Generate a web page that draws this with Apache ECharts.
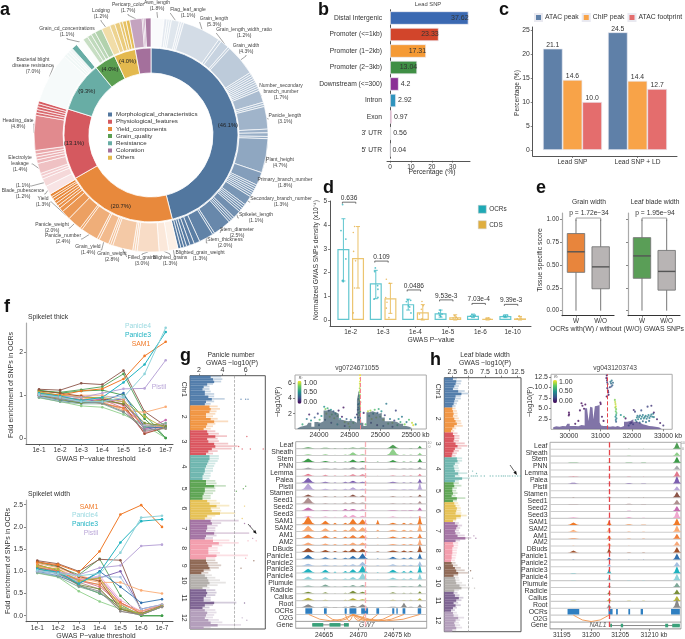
<!DOCTYPE html>
<html><head><meta charset="utf-8">
<style>html,body{margin:0;padding:0;background:#fff}#c{width:685px;height:639px}</style>
<script src="https://cdn.jsdelivr.net/npm/echarts@6/dist/echarts.min.js"></script>
</head><body><div id="c"></div>
<script>
// ---------- panel a ----------
const groupNames=['Morphological_characteristics','Yield_components','Physiological_features','Resistance','Grain_quality','Others','Coloration'];
const legendOrder=['Morphological_characteristics','Physiological_features','Yield_components','Grain_quality','Resistance','Coloration','Others'];
const groupShares=[46.1,20.7,13.1,9.3,4.0,4.0,2.9];
const morphVals=[1.8,.4,.3,.3,1.1,.3,.3,5.3,.4,1.2,.3,4.3,.3,.3,.3,.3,.3,.3,.3,.3,.3,1.7,.3,.3,3.1,.5,.5,.3,4.7,1.8,.3,.3,.3,.3,.3,.3,1.3,.3,.3,.3,.3,1.1,.3,.3,.3,2.5,.3,2.0,.8,.6,.5,.4,.4,.4];
const morphNames={0:'Awn_length',4:'Flag_leaf_angle',7:'Grain_length',9:'Grain_length_width_ratio',11:'Grain_width',21:'Number_secondary\nbranch_number',24:'Panicle_length',28:'Plant_height',29:'Primary_branch_number',36:'Secondary_branch_number',41:'Spikelet_length',45:'Stem_diameter',47:'Stem_thickness'};
const yieldVals=[1.3,1.3,3.0,.3,.3,2.8,.3,.3,1.4,.3,2.4,.3,2.0,1.3,.6,.4,.4,.4,.4,.3,.4];
const yieldNames={0:'Blighted_grain_weight',1:'Blighted_grains',2:'Filled_grains',5:'Grain_weight',8:'Grain_yield',10:'Panicle_number',12:'Panicle_weight',13:'Yield'};
const physioVals=[1.2,1.1,.4,.4,1.4,.5,.4,.4,.5,4.8,.4,.4,.4,.4,.4];
const physioNames={0:'Blade_pubescence',1:' ',4:'Electrolyte\nleakage',9:'Heading_date'};
const resistVals=[7.0,.4,.4,.3,.4,.8];
const resistNames={0:'Bacterial blight\ndisease resistance'};
const qualityVals=[1.1,.7,.6,.6,1.0];
const qualityNames={0:'Grain_cd_concentrations'};
const othersVals=[1.2,.7,.7,.4,.5,.5];
const othersNames={0:'Lodging'};
const colorVals=[1.7,.2,.2,.8];
const colorNames={0:'Pericarp_color'};
// ---------- panel b ----------
const bCats=['Distal Intergenic','Promoter (<=1kb)','Promoter (1~2kb)','Promoter (2~3kb)','Downstream (<=300)','Intron','Exon',"3' UTR","5' UTR"];
const bVals=[37.62,23.33,17.31,13.04,4.2,2.92,0.97,0.56,0.04];
// ---------- panel c ----------
const cCats=['Lead SNP','Lead SNP + LD'];
const cAtac=[21.1,24.5], cChip=[14.6,14.4], cFoot=[10.0,12.7];
// ---------- panel d ----------
const dCats=['1e-2','1e-3','1e-4','1e-5','1e-6','1e-10'];
const dOcr=[3.0,1.55,0.67,0.28,0.18,0.17], dCds=[2.62,0.92,0.33,0.12,0.05,0.07];
const dOcrLo=[1.65,0.9,0.42,0.12,0.1,0.1], dOcrHi=[4.28,2.1,0.88,0.42,0.25,0.22];
const dCdsLo=[1.35,0.28,0.0,0.0,0.0,0.0], dCdsHi=[3.95,1.55,0.65,0.22,0.09,0.15];
const dPvals=['0.636','0.109','0.0486','9.53e-3','7.03e-4','9.39e-3'];
const dBracketY=[4.98,2.49,1.27,0.85,0.70,0.66];
const dOcrPts=[[.75,4.88],[.70,3.78],[.85,3.42],[.85,2.58],[.75,1.67],[.77,1.62],[1.76,2.2],[1.74,2.05],[1.83,1.45],[1.84,1.3],[1.84,.95],[1.72,.88],[2.76,.85],[2.85,.83],[2.72,.78],[2.78,.6],[2.82,.55],[2.86,.3],[3.76,.42],[3.72,.3],[3.82,.25],[3.78,.15],[3.74,.2],[4.74,.22],[4.8,.18],[4.7,.16],[4.84,.2],[5.72,.18],[5.78,.16],[5.84,.2],[5.75,.14]];
const dCdsPts=[[1.08,3.7],[1.12,3.95],[1.09,2.9],[1.15,2.5],[1.12,1.35],[1.08,.3],[2.1,1.72],[2.2,1.55],[2.12,.75],[2.08,.95],[2.1,.5],[2.18,.1],[3.2,.78],[3.24,.6],[3.18,.45],[3.12,.25],[3.2,.05],[4.2,.18],[4.26,.12],[4.16,.08],[4.3,.05],[5.18,.06],[5.26,.08],[5.3,.04],[6.2,.18],[6.14,.05],[6.26,.08]];
// ---------- panel e : [low, q1, median, q3, high] ----------
const eGrainW=[0,.42,.645,.845,1.0], eGrainWO=[0,.24,.48,.70,1.0];
const eLeafW=[0,.355,.60,.80,1.0], eLeafWO=[0,.225,.43,.66,1.0];
// ---------- panel f ----------
const tissues=['Leaf','Sheath','Stem','PNN','Lemma','Palea','Pistil','Stamen','Seed1','Seed2','Seed3','SAM1','SAM2','AM1','AM2','DBuds','Panicle1','Panicle2','Panicle3','Panicle4','Plumule','Radicle','Callus','Root'];
const thresholds=['1e-1','1e-2','1e-3','1e-4','1e-5','1e-6','1e-7'];
const fThick=[[1.10,1.07,1.13,1.20,1.50,.55,0],[.94,.85,.75,.72,.55,.30,0],[1.12,1.05,1.10,1.12,1.0,.45,0],[1.0,.95,.90,.85,.80,.30,.30],[1.05,1.0,.95,.9,.7,.12,.25],[1.0,.92,.85,.9,.9,.2,.28],[1.0,.98,.95,1.05,1.15,1.16,1.82],[1.14,1.12,1.28,1.25,1.58,.62,.28],[1.02,.95,.88,.82,.7,.15,.25],[1.0,.95,.9,.9,.85,.2,.42],[.98,.92,.85,.95,.75,.1,.3],[1.05,1.0,1.1,1.15,1.38,1.92,2.25],[1.08,1.0,.95,.85,.65,.6,.73],[1.02,.95,.9,.8,.7,.3,.3],[1.05,.98,1.0,1.0,.9,.25,.28],[1.1,1.05,.98,.92,.78,.1,.25],[.98,.88,.82,.85,1.05,.25,.25],[.96,.9,.86,.95,.98,.3,.3],[1.05,.98,.88,.95,1.3,1.72,2.48],[1.02,.95,.85,.85,.95,1.5,2.58],[.95,.85,.8,.8,.6,.25,.35],[1.0,.9,.82,.88,.8,.35,.28],[1.08,1.0,.95,.95,.85,.5,.22],[1.03,.92,.85,.82,.62,.18,.22]];
const fWidth=[[1.2,1.1,.92,1.28,.45,0,0],[.96,.87,.55,.32,.15,0,0],[1.15,1.02,.68,.5,.25,0,0],[1.05,.95,.78,.7,.2,.05,.2],[1.1,1.0,.8,.65,.28,.1,.22],[1.02,.95,.8,.85,1.0,.15,.25],[1.0,.98,.92,1.08,1.13,1.57,1.6],[1.24,1.17,1.0,1.27,1.25,.1,.22],[1.05,.95,.75,.6,.1,.02,.2],[1.08,1.0,.82,.85,.3,.05,.25],[1.02,.98,.8,.9,.35,.1,.2],[1.2,1.15,.98,1.45,2.28,2.49,2.0],[1.1,1.05,.85,.75,.75,.57,.5],[1.15,1.0,.8,.7,.3,.05,.2],[1.18,1.08,.9,.8,.25,.1,.25],[1.22,1.12,.88,.78,.15,.02,.22],[1.0,.9,.72,1.0,.65,.29,.37],[.98,.92,.78,.88,.87,.15,.25],[1.05,.98,.72,.98,1.65,2.13,2.17],[1.02,.95,.9,.95,1.42,2.21,2.25],[.97,.88,.65,.52,.18,.02,.2],[1.08,.98,.7,.6,.15,.05,.22],[1.12,1.05,.78,.85,.2,.03,.22],[1.06,.95,.68,.55,.1,.02,.2]];
// ---------- panels g / h : Manhattan profiles per chromosome (dense part and sparse reach) ----------
const gDense=[[3.0,3.2,3.3,2.7,2.4,2.3,2.5,2.5,2.8,3.1,2.6,2.5],[2.9,3.0,2.9,2.6,2.6,3.0,3.3,2.7,2.6,2.4],[2.7,2.8,3.4,2.7,2.8,3.3,3.4,3.1,2.8,2.6],[2.9,2.9,2.8,2.7,2.6,2.5,2.5,2.4,2.3,2.3],[2.6,2.6,3.3,2.5,2.5,2.4,2.3,2.3],[2.7,2.9,3.5,3.0,3.1,3.8,2.7,2.5],[3.0,3.1,2.7,2.7,2.6,3.3,2.6,2.5],[3.2,3.7,3.1,2.8,2.8,2.8,3.5,2.6],[2.6,2.7,2.8,2.9,2.4,2.2],[2.5,2.7,2.8,2.9,2.7,2.3],[2.6,2.7,2.6,2.4,2.4,3.3,2.5,2.3],[2.5,2.7,2.6,2.5,2.8,3.0,3.6,2.4]];
const gReach=[[3.9,4.0,3.9,3.2,2.9,2.9,3.0,3.3,3.3,4.2,3.3,3.0],[3.6,3.8,3.5,3.4,3.2,3.6,4.5,3.4,3.2,3.0],[3.4,3.7,4.4,3.6,3.7,4.5,5.3,4.8,3.6,3.2],[3.7,3.7,3.6,3.4,3.3,3.2,3.2,3.0,3.0,2.9],[3.4,3.5,4.3,3.4,3.4,3.2,3.0,3.0],[3.5,3.8,4.6,3.8,3.9,5.1,3.4,3.1],[5.4,3.9,3.6,3.4,3.4,6.3,3.5,3.2],[4.6,5.4,4.0,3.6,3.6,3.8,6.2,3.4],[3.4,3.6,3.9,3.7,3.0,2.8],[3.1,3.4,3.8,4.3,3.6,2.9],[3.4,3.5,3.4,3.0,3.0,5.2,3.2,2.9],[3.4,3.5,3.3,3.2,3.7,4.0,5.6,3.0]];
const gOutliers=[[6.0,9],[6.2,9],[5.6,9],[6.1,24],[5.7,29],[5.4,28],[7.5,29],[6.4,29],[6.0,44],[5.8,45],[5.2,46],[5.9,52],[5.7,57],[6.4,60],[5.9,59],[6.6,65],[6.9,66],[6.2,66],[6.7,74],[6.0,73],[5.6,77],[5.7,97],[6.1,98],[5.9,91]];
const hDense=[[2.6,3.1,3.0,2.8,2.6,3.4,3.9,3.0,2.9,2.8,2.7,2.5],[2.5,2.6,2.7,2.6,2.8,3.0,3.2,2.8,2.5,2.3],[2.6,2.8,2.8,2.7,3.0,3.3,2.9,2.7,2.5,2.4],[3.2,3.3,2.9,2.7,2.8,2.9,3.4,2.9,4.0,2.9],[2.7,2.8,2.5,2.5,2.6,2.4,3.2,2.6],[2.8,3.0,3.2,3.1,3.0,3.8,3.1,2.6],[2.9,3.3,3.1,2.9,3.0,3.3,4.5,3.0],[2.6,2.7,2.5,2.5,2.5,2.4,2.4,2.3],[2.4,2.6,2.9,3.1,3.4,2.7],[2.9,3.0,3.1,3.6,3.9,2.8],[2.7,2.9,3.5,3.1,2.7,3.0,2.6,2.3],[2.6,2.7,3.4,3.0,2.8,2.9,3.1,2.5]];
const hReach=[[3.2,3.9,3.8,3.5,3.4,4.4,5.0,3.8,3.8,3.4,3.2,3.0],[3.0,3.2,3.3,3.3,3.5,3.8,3.9,4.1,3.1,2.8],[3.3,3.6,3.6,3.5,4.4,4.8,3.9,3.5,3.2,3.0],[4.0,4.0,3.6,3.4,3.5,3.6,4.8,3.6,5.2,3.5],[3.5,3.9,3.2,3.1,3.3,3.0,4.5,3.2],[3.4,3.6,3.8,3.8,3.9,4.7,3.8,3.1],[3.5,4.0,3.7,3.5,3.7,4.4,5.4,3.7],[3.4,3.4,3.3,3.2,3.2,3.1,3.0,2.9],[3.0,3.3,3.8,4.4,4.9,3.4],[3.5,3.6,4.0,4.6,5.2,3.5],[3.3,3.6,4.2,3.9,3.4,3.8,3.2,2.9],[3.2,3.4,4.3,3.7,3.5,3.7,4.0,3.1]];
const hOutliers=[[5.4,39],[5.7,39],[6.0,39],[6.3,39],[6.9,39],[7.4,39],[8.3,39],[8.7,39],[9.2,39],[9.6,39],[10.0,39],[10.3,39],[10.6,39],[11.0,39],[11.3,39],[11.7,39],[12.1,39],[12.5,39],[12.9,39],[5.6,37],[6.2,38],[5.8,63],[6.1,64],[5.6,80],[5.9,84],[5.3,77]];
// ---------- LD scatter panels : [kb, -log10P, r2] ----------
const gDensity=[[23650,.1],[23700,.3],[23750,.4],[23800,.5],[23850,.8],[23900,.3],[23950,.9],[24000,.8],[24050,1.0],[24100,2.4],[24150,2.5],[24200,2.3],[24250,2.2],[24300,2.0],[24350,1.2],[24400,1.1],[24450,1.0],[24500,1.1],[24550,1.0],[24600,.8],[24640,3.8],[24660,5.0],[24680,3.6],[24700,.8],[24750,.4],[24800,2.2],[24850,2.3],[24900,2.2],[24950,2.0],[25000,2.1],[25050,1.5],[25100,1.0],[25150,1.0],[25200,1.0],[25250,.9],[25300,.7],[25350,.7],[25400,.4],[25450,.3],[25500,.1],[25550,0]];
const gPoints=[[24671,7,1],[24671,6.6,1],[24670,6.2,.95],[24668,5.9,.9],[24672,5.6,.95],[24666,5.3,.85],[24670,5,.9],[24662,4.8,.8],[24668,4.5,.85],[24655,4.3,.6],[24665,4.1,.8],[24648,3.9,.55],[24660,3.7,.9],[24675,3.5,.7],[24652,3.3,.5],[24640,3.2,.4],[24668,3.0,.95],[24645,2.8,.3],[24658,2.6,.7],[24635,2.5,.2],[24672,2.3,.8],[24650,2.1,.6],[24664,1.8,.9],[24655,1.2,.4],[24640,1.5,.1],[23730,.6,.6],[23800,1.3,.4],[23840,1.9,.1],[23870,1.1,.5],[23930,1.5,.3],[23980,2.0,.2],[24010,1.2,.7],[24040,1.7,.5],[24085,2.9,.5],[24105,2.6,.8],[24120,2.0,.9],[24140,2.7,.6],[24160,2.4,.2],[24175,1.6,.9],[24195,2.5,.5],[24210,1.9,.8],[24235,2.3,.3],[24250,1.4,.9],[24270,2.0,.6],[24300,1.7,.8],[24320,2.4,.1],[24345,1.3,.5],[24375,1.6,.1],[24400,2.8,.05],[24420,.9,.9],[24450,1.3,.3],[24480,.7,.95],[24520,1.2,.6],[24560,.8,.8],[24590,1.5,.3],[24620,1.9,.15],[24730,2.1,.1],[24760,.6,.7],[24800,2.3,.9],[24820,1.7,.6],[24840,2.4,.85],[24860,1.3,.95],[24885,2.0,.5],[24910,2.5,.7],[24935,1.5,.9],[24955,2.1,.3],[24975,2.6,.6],[25000,1.6,.8],[25020,2.3,.5],[25050,1.2,.95],[25075,1.8,.2],[25100,3.3,.4],[25130,.7,.8],[25160,1.3,.4],[25200,.8,.9],[25230,1.1,.2],[25255,2.4,.2],[25280,.5,.7],[25300,1.3,.5],[25330,.9,.6],[25355,1.6,.4],[25400,.6,.8],[25430,.9,.4],[25470,1.2,.7],[25520,.8,.9],[25540,.5,.95],[25580,.6,.5],[24000,.5,.3],[24100,1.2,.2],[24200,.8,.1],[24300,.6,.5],[24420,.4,.05],[24500,.3,.9],[24850,.8,.1],[24950,.5,.05],[25050,.4,.2],[25200,.3,.1]];
const hDensity=[[29500,.5],[29600,.7],[29700,.6],[29800,.8],[29900,.7],[30000,1.3],[30050,.8],[30150,.8],[30250,.7],[30350,1.0],[30450,.9],[30550,5.0],[30600,5.3],[30650,2.0],[30700,5.4],[30750,5.2],[30800,2.4],[30850,5.5],[30900,5.6],[30950,5.8],[31000,1.6],[31050,.9],[31100,.8],[31150,.8],[31250,.6],[31350,.7],[31450,.6],[31500,.8],[31600,.5],[31700,.8],[31800,1.8],[31900,2.0],[32000,2.4],[32100,1.8],[32200,1.6],[32300,1.2],[32400,1.0],[32500,.8],[32600,.7],[32700,.6],[32800,.5],[32900,.2],[33000,0]];
const hPoints=[[31203,12.8,.02],[31190,12.2,.05],[31210,11.7,.1],[31215,11.2,.15],[31230,10.8,.2],[31320,11.3,.4],[31340,10.9,.35],[31360,11.6,.4],[31380,10.5,.3],[31400,11.1,.35],[31350,10.2,.3],[31300,10.0,.15],[31220,9.8,.1],[31240,9.2,.05],[31250,8.8,.05],[31260,8.2,.05],[31200,7.8,.02],[31460,7.0,.8],[31470,6.5,.9],[31480,6.0,.9],[31490,5.5,.95],[31475,5.2,.85],[31500,4.8,.8],[31490,4.3,.75],[31510,3.9,.7],[31500,3.4,.55],[31480,3.0,.5],[31510,2.6,.45],[31490,2.2,.4],[31500,1.8,.3],[30000,4.0,.03],[30005,3.6,.03],[29995,3.3,.03],[30400,6.2,.02],[30350,4.5,.05],[30430,5.6,.03],[30480,4.9,.03],[30520,5.9,.02],[30300,2.0,.03],[30200,1.3,.05],[31000,6.4,.03],[31010,6.0,.02],[31050,3.0,.05],[31100,2.0,.03],[32120,2.2,.45],[32160,2.8,.45],[32180,3.2,.4],[32200,2.4,.45],[32230,2.9,.42],[32260,3.3,.4],[32290,2.5,.42],[32320,3.0,.45],[32350,3.4,.4],[32380,2.6,.45],[32410,2.9,.42],[32440,3.2,.45],[32470,2.5,.42],[32500,3.0,.4],[32530,3.4,.45],[32560,2.7,.42],[32590,3.1,.4],[32620,3.5,.42],[32650,3.0,.45],[32680,3.7,.4],[32700,2.9,.42],[32150,1.8,.35],[32250,1.6,.4],[32350,1.9,.35],[32450,1.7,.38],[32550,2.0,.35],[32060,4.6,.12],[32100,4.2,.2],[32300,4.5,.25],[32500,5.4,.2],[32620,5.6,.15],[32700,4.0,.1],[32800,2.4,.1],[32900,1.5,.08],[33000,.9,.15],[31800,2.6,.05],[31900,.9,.4],[31950,1.4,.3],[31990,1.6,.15],[32040,1.2,.3],[31650,3.4,.5],[31750,3.0,.6]];
// ---------- tracks : peak positions (kb) and signal per tissue at each position ----------
const gPeakPos=[24662.7,24665.2,24666.6,24668.1,24669.2,24670.6,24672.8,24675,24676.6,24677.6,24678.9];
const gPeakHalf=[1.0,.8,.4,.5,.8,.8,.3,.9,.5,.5,.4];
const gSignal=[[.2,.1,.05,.05,.15,.1,0,.7,0,.05,.5],[.2,.2,.05,.1,.6,.2,0,1.3,.1,.1,.5],[.7,.2,.1,.1,.5,.2,.1,.4,.1,.1,.7],[.3,.1,.1,.1,.4,.3,0,.1,.1,.1,.4],[.4,.2,.1,.1,.3,.3,.05,.1,.1,.1,.4],[1.0,.2,.1,.2,.4,.2,0,.2,.1,.1,.8],[1.3,.2,.1,.2,.5,.2,0,.1,.1,.1,1.5],[.4,.1,.1,.1,.4,.2,0,.1,.05,.1,.4],[1.2,.1,.05,.2,.3,.2,0,.1,.05,.1,.5],[.6,.1,.05,.3,.3,.2,0,.1,.05,.1,.6],[.3,.2,.1,.5,.5,.3,0,.2,.05,.1,.3],[1.6,.7,.3,.3,1.1,1.0,.9,.3,.3,.2,1.7],[1.1,.6,.3,.3,.9,.8,.3,.3,.3,.2,1.6],[.7,.5,.2,.3,.6,.6,.1,.3,.2,.2,.9],[.5,.3,.2,.2,.5,.5,.05,.2,.2,.2,1.3],[.8,.4,.2,.3,.7,.6,.1,.3,.3,.2,1.4],[.8,.3,.2,.2,.6,1.1,.1,.4,.2,.3,1.1],[.4,.2,.1,.2,.3,.8,.1,.3,.2,.2,.9],[.8,.6,.2,.3,.7,1.4,.1,.6,.3,.4,1.6],[.6,.5,.1,.2,.5,1.3,.1,.4,.2,.3,1.2],[.2,.4,.05,.1,.3,.3,0,.1,.1,.1,.5],[.3,.2,.05,.1,.5,.3,0,.2,.1,.1,.4],[.5,.1,0,.1,.4,.2,0,.1,.05,.1,.4],[.6,.1,.05,.1,.3,.6,0,.1,.9,.1,.6]];
const gOcrBlocks=[[24662.3,24663.3],[24665,24665.4],[24668,24668.3],[24668.7,24669.7],[24670.4,24671.4],[24672.6,24673],[24674.9,24675.2],[24675.5,24675.7],[24676.4,24676.8],[24678.6,24679.1]];
const gLoopAnchor=24669.2;
const gLoopTargets=[24662.8,24665.2,24668.1,24670.9,24672.8,24675,24676.6,24678.9];
const gGeneSpan=[24663.3,24668.6];
const gExons=[[24663.3,24664.9],[24665.8,24667.4],[24667.9,24668.6]];
const hPeakPos=[31197,31203.1,31206.5,31209,31214.7];
const hPeakHalf=[1.0,.45,.7,.5,.7];
const hSignal=[[.02,.02,.05,.05,1.3],[.02,.02,.05,.02,.7],[.05,.02,.05,.02,1.2],[.02,.02,.02,.02,.8],[.1,.05,.05,.02,1.1],[.15,.05,.1,.05,1.5],[.02,.05,.02,.02,.8],[.02,.1,.02,.02,1.1],[.02,.02,.1,.02,.9],[.02,.02,.05,.02,1.0],[.15,.1,.2,.05,1.5],[.5,1.0,.1,.05,1.3],[.4,.9,.1,.05,1.3],[.1,.7,.05,.05,1.0],[.05,.6,.05,.03,.9],[.4,.9,.05,.05,1.1],[.02,.4,.02,.02,1.2],[.02,.5,.02,.02,.9],[.05,.9,.03,.03,1.4],[.03,.7,.03,.03,1.3],[.02,.4,.02,.02,.9],[.02,.4,.02,.02,.9],[.02,.4,.02,.02,1.0],[.02,.8,.02,.02,1.8]];
const hOcrBlocks=[[31196,31198],[31203,31203.7],[31204.3,31204.6],[31206.4,31206.7],[31208.5,31208.9],[31213.7,31215.2]];
const hLoopAnchor=31203.1;
const hLoopTargets=[31197];
const hGeneSpan=[31203.3,31215.2];
const hExons=[[31203.3,31203.6],[31205.1,31205.5],[31212.7,31213.2],[31213.9,31215.2]];

// ---------- styling ----------
const FF='"Liberation Sans",Arial,sans-serif';
const groupColors=['#52779f','#e8893c','#d5595f','#68ada5','#5a9e50','#e3b94e','#a4709c'];
const bColors=['#3b69b2','#d2452b','#f59a35','#3f8f45','#8a3095','#2f93bd','#d64f8d','#8fc45a','#f2c9c9'];
const tissueColors=['#4f9e55','#8fcf8a','#3c9a48','#a9a9ad','#e2788c','#7d5fb0','#b9a5d8','#8c5548','#b0908f','#c76bb0','#f0a8d0','#f07a28','#fbab74','#f0803c','#f8a878','#a0522d','#2f6fae','#a5bfe0','#1fb3c0','#8fd3da','#7fa898','#7a8f3a','#b8b43a','#8a8a8a'];
const chrColors=['#4c78a8','#f0913c','#d9505a','#69b3ac','#58a14e','#e5bf4f','#a06fa0','#f29aaa','#8c6450','#b0aca8','#7a5f8f','#b09ab8'];
const viridis=['#440154','#3b528b','#21918c','#5ec962','#fde725'];
// where the ring's labels sit on the page (centre of each label)
const ringLabelAt={'Awn_length':[157,6],'Pericarp_color':[128,8],'Flag_leaf_angle':[188,13],'Lodging':[101,14],'Grain_length':[214,22],'Grain_cd_concentrations':[67,32],'Grain_length_width_ratio':[244,33],'Grain_width':[246,49],'Bacterial blight\ndisease resistance':[33,66],'Number_secondary\nbranch_number':[281,92],'Panicle_length':[285,119],'Heading_date':[18,124],'Plant_height':[280,163],'Electrolyte\nleakage':[20,164],'Primary_branch_number':[285,183],' ':[23,186],'Blade_pubescence':[23,194],'Secondary_branch_number':[281,202],'Yield':[43,202],'Spikelet_length':[256,218],'Panicle_weight':[52,228],'Stem_diameter':[237,233],'Panicle_number':[63,239],'Stem_thickness':[225,243],'Grain_yield':[88,250],'Blighted_grain_weight':[200,256],'Grain_weight':[112,257],'Filled_grains':[142,261],'Blighted_grains':[170,261]};

const grid=[],xAxis=[],yAxis=[],series=[],graphic=[],legend=[],visualMap=[];
function T(text,x,y,o={}){graphic.push({type:'text',x,y,rotation:o.rot||0,silent:true,z:50,style:{text,font:`${o.italic?'italic ':''}${o.weight||'normal'} ${o.size||7}px ${FF}`,fill:o.color||'#333',align:o.align||'center',verticalAlign:'middle'}});}
function mix(c,t){const n=parseInt(c.slice(1),16),r=n>>16,g=(n>>8)&255,b=n&255,f=v=>Math.round(255+(v-255)*t);return `rgb(${f(r)},${f(g)},${f(b)})`;}
function addGrid(l,t,r,b,o={}){grid.push(Object.assign({left:l,top:t,width:r-l,height:b-t,containLabel:false},o));return grid.length-1;}
const lineCol='#555';
function valAxis(g,min,max,ticks,fmt,o={}){
  const a=Object.assign({type:'value',gridIndex:g,min,max,splitLine:{show:false},
   axisLine:{show:o.line!==false,onZero:false,lineStyle:{color:o.lineColor||lineCol,width:o.lineWidth||1}},
   axisTick:{show:true,customValues:ticks,length:2,lineStyle:{color:lineCol,width:.7}},
   axisLabel:{show:o.label!==false,customValues:ticks,formatter:fmt,fontSize:o.size||7,color:'#333',margin:o.margin||3,fontFamily:FF,hideOverlap:false}},o.extra||{});
  return a;
}
function dashLine(x,color,w){return {silent:true,symbol:'none',animation:false,label:{show:false},lineStyle:{type:'dashed',color,width:w||1},data:[{xAxis:x}]};}

// ---------- a ----------
function ringData(vals,names,ci,lo,hi,first){let cum=0;const tot=vals.reduce((a,b)=>a+b,0);return vals.map((v,i)=>{
  let t=lo+(hi-lo)*((cum+v/2)/tot);cum+=v;
  if(i===0&&first!==undefined)t=first;
  const nm=names[i];
  return {name:nm||('s'+ci+'_'+i),value:v,itemStyle:{color:mix(groupColors[ci],t)},label:{show:!!nm},labelLine:{show:!!nm}};
});}
const outer=[].concat(ringData(morphVals,morphNames,0,.12,1.0,.03),ringData(yieldVals,yieldNames,1,.1,1.05),ringData(physioVals,physioNames,2,.12,1.0),ringData(resistVals,resistNames,3,.02,.12),ringData(qualityVals,qualityNames,4,.25,.5,.02),ringData(othersVals,othersNames,5,.4,1.0),ringData(colorVals,colorNames,6,.5,1.0));
outer[outer.length-colorVals.length-othersVals.length-qualityVals.length-1].itemStyle.color=groupColors[3];
series.push({type:'pie',radius:[88,117],center:[151,135],startAngle:90,silent:true,avoidLabelOverlap:false,data:outer,itemStyle:{borderColor:'#fff',borderWidth:.7},
  label:{position:'outside',fontSize:5,color:'#444',lineHeight:6,fontFamily:FF,align:'center',formatter:p=>p.name===' '?`(${p.value.toFixed(1)}%)`:`${p.name}\n(${p.value.toFixed(1)}%)`},
  labelLine:{length:2,length2:1,lineStyle:{color:'#444',width:.5}},
  labelLayout:p=>{const a=ringLabelAt[outer[p.dataIndex].name];return a?{x:a[0],y:a[1],align:'center',verticalAlign:'middle'}:{};}});
series.push({type:'pie',radius:[62,87],center:[151,135],startAngle:90,silent:true,avoidLabelOverlap:false,
  data:groupNames.map((n,i)=>({name:n,value:groupShares[i],itemStyle:{color:groupColors[i]}})),itemStyle:{borderColor:'#fff',borderWidth:.8},
  label:{position:'inside',fontSize:5.8,color:'#222',fontFamily:FF,formatter:p=>`(${p.value.toFixed(1)}%)`},labelLine:{show:false}});
legend.push({left:106,top:110.5,orient:'vertical',icon:'rect',itemWidth:6,itemHeight:6,itemGap:-.8,selectedMode:false,padding:0,data:legendOrder,textStyle:{fontSize:6.2,color:'#333',fontFamily:FF,padding:[0,0,0,-2]}});

// ---------- b ----------
{const g=addGrid(387,9.75,470,158.25);
 xAxis.push(valAxis(g,-1.43,38.3,[0,10,20,30],v=>String(v),{extra:{offset:2.5},size:6.5}));
 yAxis.push({type:'category',gridIndex:g,data:bCats,inverse:true,axisLine:{lineStyle:{color:lineCol}},axisTick:{show:false},axisLabel:{fontSize:6.7,color:'#333',margin:5,interval:0,fontFamily:FF}});
 series.push({type:'bar',xAxisIndex:g,yAxisIndex:g,barWidth:13.5,silent:true,itemStyle:{borderColor:'#f0eef4',borderWidth:.8},
  data:bVals.map((v,i)=>({value:v,itemStyle:{color:bColors[i]},label:{show:true,position:i<4?'insideRight':'right',distance:i<4?0:2,fontSize:7,color:'#333',fontFamily:FF}}))});
 T('Lead SNP',428,4,{size:5.8,color:'#444'});T('Percentage (%)',432,172,{size:6.8});
}
// ---------- c ----------
{const g=addGrid(532.7,27,677,156);
 xAxis.push(valAxis(g,.388,2.608,[1,2],v=>cCats[v-1],{size:6.6}));
 yAxis.push(valAxis(g,-1.25,25.6,[0,5,10,15,20,25],v=>String(v),{size:6.8}));
 [['ATAC peak',cAtac,'#5f80a8'],['ChIP peak',cChip,'#f8a348'],['ATAC footprint',cFoot,'#e46d6d']].forEach(([n,d,col])=>{
  series.push({type:'bar',name:n,xAxisIndex:g,yAxisIndex:g,barWidth:19.7,barGap:'0%',silent:true,itemStyle:{color:col,borderColor:'#e9e9f0',borderWidth:.7},
   data:d.map((v,i)=>[i+1,v]),label:{show:true,position:'top',distance:0,fontSize:6.8,color:'#333',fontFamily:FF,formatter:p=>p.value[1].toFixed(1)}});});
 legend.push({left:534,top:13,icon:'rect',itemWidth:7,itemHeight:7,itemGap:3,padding:0,selectedMode:false,data:['ATAC peak','ChIP peak','ATAC footprint'],textStyle:{fontSize:6.8,color:'#333',fontFamily:FF,padding:[0,0,0,-2]}});
 T('Percentage (%)',517,93,{rot:Math.PI/2,size:6.6});
}
// ---------- d ----------
{const g=addGrid(330,201,531,326);
 xAxis.push(valAxis(g,.361,6.565,[1,2,3,4,5,6],v=>dCats[v-1],{size:6.4}));
 yAxis.push(valAxis(g,-.254,5.03,[0,1,2,3,4,5],v=>String(v),{size:6.4}));
 const oc='#62c6cf',cc='#ecc570';
 series.push({type:'bar',name:'OCRs',xAxisIndex:g,yAxisIndex:g,barWidth:12,barGap:'22%',silent:true,itemStyle:{color:'rgba(255,255,255,0)',borderColor:oc,borderWidth:1.2},data:dOcr.map((v,i)=>[i+1,v])});
 series.push({type:'bar',name:'CDS',xAxisIndex:g,yAxisIndex:g,barWidth:12,silent:true,itemStyle:{color:'rgba(255,255,255,0)',borderColor:cc,borderWidth:1.2},data:dCds.map((v,i)=>[i+1,v])});
 const err=(lo,hi,off,col)=>({type:'custom',xAxisIndex:g,yAxisIndex:g,silent:true,data:lo.map((l,i)=>[i+1+off,l,hi[i]]),
   renderItem:(p,api)=>{const a=api.coord([api.value(0),api.value(1)]),b=api.coord([api.value(0),api.value(2)]);const st={stroke:col,lineWidth:.9};
    return {type:'group',children:[{type:'line',shape:{x1:a[0],y1:a[1],x2:b[0],y2:b[1]},style:st},{type:'line',shape:{x1:a[0]-2,y1:a[1],x2:a[0]+2,y2:a[1]},style:st},{type:'line',shape:{x1:b[0]-2,y1:b[1],x2:b[0]+2,y2:b[1]},style:st}]};}});
 series.push(err(dOcrLo,dOcrHi,-.225,'#4fbfc9'),err(dCdsLo,dCdsHi,.225,'#e9bb5a'));
 series.push({type:'scatter',xAxisIndex:g,yAxisIndex:g,silent:true,symbolSize:1.8,itemStyle:{color:'#35b5c0'},data:dOcrPts});
 series.push({type:'scatter',xAxisIndex:g,yAxisIndex:g,silent:true,symbolSize:1.6,itemStyle:{color:'#e5ae45'},data:dCdsPts});
 series.push({type:'custom',xAxisIndex:g,yAxisIndex:g,silent:true,data:dPvals.map((s,i)=>[i+.95,dBracketY[i],i]),
   renderItem:(p,api)=>{const c=api.coord([api.value(0),api.value(1)]),s={stroke:'#333',lineWidth:.7};
    return {type:'group',children:[{type:'line',shape:{x1:c[0]-6.7,y1:c[1],x2:c[0]+6.7,y2:c[1]},style:s},{type:'line',shape:{x1:c[0]-6.7,y1:c[1],x2:c[0]-6.7,y2:c[1]+1.5},style:s},{type:'line',shape:{x1:c[0]+6.7,y1:c[1],x2:c[0]+6.7,y2:c[1]+1.5},style:s},
     {type:'text',style:{text:dPvals[api.value(2)],x:c[0],y:c[1]-4,align:'center',verticalAlign:'middle',font:`6.6px ${FF}`,fill:'#333'}}]};}});
 legend.push({left:478,top:205,orient:'vertical',icon:'rect',itemWidth:8,itemHeight:8,itemGap:7,padding:0,selectedMode:false,
   data:[{name:'OCRs',itemStyle:{color:'#1fa9b5',borderColor:'#ccc',borderWidth:.5}},{name:'CDS',itemStyle:{color:'#dfae3f',borderColor:'#ccc',borderWidth:.5}}],textStyle:{fontSize:6.4,color:'#333',fontFamily:FF,padding:[0,0,0,-2]}});
 T('Normalized GWAS SNPs density (x10\u207B\u2074)',316,260,{rot:Math.PI/2,size:6.7});
 T('GWAS P\u2212value',431,340,{size:6.8});
}
// ---------- e ----------
function boxPanel(left,right,w,wo,col,labels,title,ptext){
 const g=addGrid(left,213,right,315.7);
 xAxis.push(valAxis(g,.433,2.54,[1,2],v=>['W','W/O'][v-1],{size:6.4,lineColor:'#333',lineWidth:1.2}));
 yAxis.push(valAxis(g,-.055,1.07,[0,.25,.5,.75,1],v=>v.toFixed(2),{size:6.4,label:labels,lineColor:'#aaa',lineWidth:1.2}));
 const cols=[col,'#b8b4b4'];
 series.push({type:'custom',xAxisIndex:g,yAxisIndex:g,silent:true,data:[[1].concat(w),[2].concat(wo)],
  renderItem:(p,api)=>{const x=api.value(0),P=v=>api.coord([x,v]);const lo=P(api.value(1)),q1=P(api.value(2)),m=P(api.value(3)),q3=P(api.value(4)),hi=P(api.value(5));const hw=8.7;
   return {type:'group',children:[{type:'line',shape:{x1:lo[0],y1:lo[1],x2:hi[0],y2:hi[1]},style:{stroke:'#777',lineWidth:1}},
    {type:'rect',shape:{x:q3[0]-hw,y:q3[1],width:2*hw,height:q1[1]-q3[1]},style:{fill:cols[p.dataIndex],stroke:'#777',lineWidth:.9}},
    {type:'line',shape:{x1:m[0]-hw,y1:m[1],x2:m[0]+hw,y2:m[1]},style:{stroke:'#555',lineWidth:1.4}}]};}});
 series.push({type:'custom',xAxisIndex:g,yAxisIndex:g,silent:true,data:[[1,1.015]],
  renderItem:(p,api)=>{const a=api.coord([1,1.015]),b=api.coord([2,1.015]),s={stroke:'#666',lineWidth:.6};
   return {type:'group',children:[{type:'line',shape:{x1:a[0],y1:a[1],x2:b[0],y2:b[1]},style:s},{type:'line',shape:{x1:a[0],y1:a[1],x2:a[0],y2:a[1]+3},style:s},{type:'line',shape:{x1:b[0],y1:b[1],x2:b[0],y2:b[1]+3},style:s}]};}});
 T(title,(left+right)/2+1,202,{size:6.7});T(ptext,(left+right)/2+1,213,{size:6.7});
}
boxPanel(562,614,eGrainW,eGrainWO,'#e8853c',true,'Grain width','p = 1.72e\u221234');
boxPanel(628,680,eLeafW,eLeafWO,'#5a9e57',false,'Leaf blade width','p = 1.95e\u221294');
T('Tissue specific score',540.5,260,{rot:Math.PI/2,size:6.9});
T('OCRs with(W) / without (W/O) GWAS SNPs',617,329,{size:6.9});
// ---------- f ----------
function enrichPanel(top,bottom,xmin,xmax,ymin,ymax,ticks,fmt,rows){
 const g=addGrid(26,top,173,bottom);
 xAxis.push(valAxis(g,xmin,xmax,[1,2,3,4,5,6,7],v=>thresholds[v-1],{size:6.5}));
 yAxis.push(valAxis(g,ymin,ymax,ticks,fmt,{size:6.8,lineColor:'#aaa',lineWidth:1.2}));
 const hi=[6,11,18,19];
 const order=tissues.map((_,i)=>i).filter(i=>!hi.includes(i)).concat(hi);
 order.forEach(i=>series.push({type:'line',name:tissues[i],xAxisIndex:g,yAxisIndex:g,silent:true,symbol:'circle',symbolSize:2.6,showSymbol:true,lineStyle:{width:hi.includes(i)?1:.9,color:tissueColors[i]},itemStyle:{color:tissueColors[i]},data:rows[i].map((v,k)=>[k+1,v])}));
}
enrichPanel(323,444,.384,7.346,-.14,2.69,[0,1,2],v=>String(v),fThick);
enrichPanel(500,621.7,.457,7.53,-.135,2.606,[0,.5,1,1.5,2,2.5],v=>v.toFixed(1),fWidth);
T('Spikelet thick',28,317,{size:6.8,align:'left'});T('Spikelet width',28,494,{size:6.8,align:'left'});
T('Fold enrichment of SNPs in OCRs',11,385,{rot:Math.PI/2,size:7});T('Fold enrichment of SNPs in OCRs',8,561,{rot:Math.PI/2,size:7});
T('GWAS P\u2212value threshold',96,459,{size:7});T('GWAS P\u2212value threshold',96,636,{size:7});
T('Panicle4',138,326,{color:'#9ad9e0',size:6.8});T('Panicle3',138,335,{color:'#20b3c2',size:6.8});T('SAM1',141,344,{color:'#f07a28',size:6.8});T('Pistil',159,387,{color:'#b9a5d8',size:6.8});
T('SAM1',89,507,{color:'#f07a28',size:6.8});T('Panicle4',85,515,{color:'#9ad9e0',size:6.8});T('Panicle3',85,524,{color:'#20b3c2',size:6.8});T('Pistil',91,533,{color:'#b9a5d8',size:6.8});
// ---------- g / h Manhattan ----------
function manhattan(l,t,r,b,xmin,xmax,ticks,fmt,thr,dense,reach,out){
 const g=addGrid(l,t,r,b,{show:true,borderColor:'#555',borderWidth:1,backgroundColor:'rgba(0,0,0,0)'});
 const rowChr=[],names=[];
 dense.forEach((c,ci)=>{const mid=Math.floor((c.length-1)/2);c.forEach((_,k)=>{rowChr.push(ci);names.push(k===mid?(ci===0?'Chr1':String(ci+1)):'');});});
 xAxis.push(valAxis(g,xmin,xmax,ticks,fmt,{line:false,size:7,margin:2,extra:{position:'top'}}));
 yAxis.push({type:'category',gridIndex:g,inverse:true,data:names,axisLine:{show:false},axisTick:{show:false},axisLabel:{interval:0,rotate:-90,fontSize:7,color:'#333',margin:3,fontFamily:FF}});
 const mk=(arr,op,bw)=>({type:'bar',xAxisIndex:g,yAxisIndex:g,silent:true,barWidth:bw,barGap:'-100%',data:arr.flat().map((v,i)=>({value:v,itemStyle:{color:chrColors[rowChr[i]],opacity:op}}))});
 const s1=mk(reach,.32,'70%'),s2=mk(dense,.95,'100%');
 s2.markLine=dashLine(thr,'#999',.7);
 series.push(s1,s2);
 series.push({type:'scatter',xAxisIndex:g,yAxisIndex:g,silent:true,symbolSize:1.4,data:out.map(o=>({value:o,itemStyle:{color:chrColors[rowChr[o[1]]]}}))});
}
manhattan(190,375.7,265.3,629,1.23,7.68,[2,4,6],v=>String(v),5.04,gDense,gReach,gOutliers);
manhattan(444.3,377.7,521,631.7,1.28,13,[2.5,5,7.5,10,12.5],v=>v.toFixed(1),4.9,hDense,hReach,hOutliers);
T('Panicle number',231,355,{size:6.8});T('GWAS \u2212log10(P)',232,363,{size:6.8});
T('Leaf blade width',485,355,{size:6.8});T('GWAS \u2212log10(P)',485,363,{size:6.8});
// ---------- LD scatter ----------
function ldPanel(l,t,r,b,xmin,xmax,ymin,ymax,xt,yt,yf,density,pts,snp,dashCol,barX,barY){
 const g=addGrid(l,t,r,b,{show:true,borderColor:'#aaa',borderWidth:1,backgroundColor:'rgba(0,0,0,0)'});
 xAxis.push(valAxis(g,xmin,xmax,xt,v=>v===xt[xt.length-1]?'\u00A0\u00A0\u00A0\u00A0\u00A0'+v+' kb':String(v),{line:false,size:6.8}));
 yAxis.push(valAxis(g,ymin,ymax,yt,yf,{line:false,size:7}));
 series.push({type:'line',xAxisIndex:g,yAxisIndex:g,silent:true,step:'middle',symbol:'none',lineStyle:{width:0},areaStyle:{color:density.col,opacity:density.op},data:density.d,markLine:dashLine(snp,dashCol,1)});
 visualMap.push({type:'continuous',min:0,max:1,seriesIndex:series.length,dimension:2,show:true,calculable:false,realtime:false,hoverLink:false,left:barX,top:barY,itemWidth:4,itemHeight:23,text:['',''],inRange:{color:viridis},textGap:0,padding:0,z:60});
 series.push({type:'scatter',xAxisIndex:g,yAxisIndex:g,silent:true,symbolSize:2.1,data:pts});
 T('1.00',barX+6,barY+2,{align:'left',size:7});T('0.50',barX+6,barY+11,{align:'left',size:7});T('0.00',barX+6,barY+21,{align:'left',size:7});
 T('R\u00B2',barX+3,barY-3,{size:3.5,italic:true});
}
ldPanel(295,375,426.3,429,23608,25753,0,7.04,[24000,24500,25000,25500],[2,4,6],v=>String(v),{d:gDensity,col:'#3d5a6c',op:.72},gPoints,24671,'#f5868e',297.5,380.7);
ldPanel(551,374.3,679.3,429.3,29430,33282,0,13.1,[30000,31000,32000,33000],[2.5,5,7.5,10,12.5],v=>v.toFixed(1),{d:hDensity,col:'#46327e',op:.68},hPoints,31203,'#e6444a',553,380);
T('vg0724671055',357,368,{size:6.6,color:'#444'});T('vg0431203743',615,368,{size:6.6,color:'#444'});
T('\u2212log10(P)',278,402,{rot:Math.PI/2,size:7});T('\u2212log10(P)',530,402,{rot:Math.PI/2,size:7});
// ---------- tracks ----------
const trackRows=tissues.concat(['OCRs','O2G','Gene']);
function tracks(l,t,r,b,xmin,xmax,xt,pos,half,sig,blocks,anchor,targets,span,exons,geneName,geneX,snp,dashCol){
 const g=addGrid(l,t,r,b,{show:true,borderColor:'#aaa',borderWidth:1,backgroundColor:'rgba(0,0,0,0)'});
 xAxis.push(valAxis(g,xmin,xmax,xt,v=>v===xt[xt.length-1]?'\u00A0\u00A0\u00A0\u00A0\u00A0'+v+' kb':String(v),{line:false,size:6.5}));
 yAxis.push({type:'category',gridIndex:g,inverse:true,data:trackRows,axisLine:{show:false},axisTick:{show:false},axisLabel:{interval:0,fontSize:6.9,color:'#333',margin:2.5,fontFamily:FF}});
 // row separators
 series.push({type:'custom',xAxisIndex:g,yAxisIndex:g,silent:true,clip:true,z:1,data:trackRows.map((_,i)=>[xmin,i]),
  renderItem:(p,api)=>{const c=api.coord([xmin,api.value(1)]),rh=api.size([0,1])[1],y=c[1]+rh/2;const last=api.value(1)>=25;
   return {type:'line',shape:{x1:p.coordSys.x,y1:y,x2:p.coordSys.x+p.coordSys.width,y2:y},style:{stroke:last?'#888':'#ccc',lineWidth:last?.8:1.1}};},
  markLine:Object.assign(dashLine(snp,dashCol,1.3),{z:9})});
 // peaks
 const peaks=[];sig.forEach((row,ri)=>row.forEach((h,pi)=>{if(h>0)peaks.push([pos[pi],ri,h,half[pi]]);}));
 series.push({type:'custom',xAxisIndex:g,yAxisIndex:g,silent:true,clip:false,z:3,data:peaks,
  renderItem:(p,api)=>{const x=api.value(0),ri=api.value(1),h=api.value(2),w=api.value(3);const c=api.coord([x,ri]),rh=api.size([0,1])[1];const base=c[1]+rh/2-.4,H=h*rh*.72;
   const X=v=>api.coord([v,ri])[0];
   return {type:'polygon',shape:{points:[[X(x-w),base],[X(x-w*.6),base-H*.2],[X(x-w*.25),base-H*.7],[c[0],base-H],[X(x+w*.25),base-H*.7],[X(x+w*.6),base-H*.2],[X(x+w),base]]},style:{fill:tissueColors[ri]}};}});
 // OCR blocks
 series.push({type:'custom',xAxisIndex:g,yAxisIndex:g,silent:true,z:4,data:blocks.map(e=>[e[0],e[1],24]),
  renderItem:(p,api)=>{const a=api.coord([api.value(0),24]),b2=api.coord([api.value(1),24]),rh=api.size([0,1])[1];
   return {type:'rect',shape:{x:a[0],y:a[1]-rh*.4,width:Math.max(1.2,b2[0]-a[0]),height:rh*.8},style:{fill:'#2f7fc1'}};}});
 // loops
 series.push({type:'custom',xAxisIndex:g,yAxisIndex:g,silent:true,z:5,data:targets.map(v=>[v,25]),
  renderItem:(p,api)=>{const a=api.coord([anchor,25]),c=api.coord([api.value(0),25]),rh=api.size([0,1])[1],y=a[1]-rh/2;const mx=(a[0]+c[0])/2,dep=rh*1.15;
   return {type:'bezierCurve',shape:{x1:a[0],y1:y,x2:c[0],y2:y,cpx1:mx,cpy1:y+dep*1.6},style:{stroke:'#f0954f',fill:'none',lineWidth:.9}};}});
 // gene
 series.push({type:'custom',xAxisIndex:g,yAxisIndex:g,silent:true,z:5,data:[[span[0],span[1]]],
  renderItem:(p,api)=>{const a=api.coord([api.value(0),26]),c=api.coord([api.value(1),26]);return {type:'line',shape:{x1:a[0],y1:a[1],x2:c[0],y2:c[1]},style:{stroke:'#555',lineWidth:.7}};}});
 series.push({type:'custom',xAxisIndex:g,yAxisIndex:g,silent:true,z:6,data:exons.map(e=>[e[0],e[1]]),
  renderItem:(p,api)=>{const a=api.coord([api.value(0),26]),c=api.coord([api.value(1),26]);return {type:'rect',shape:{x:a[0],y:a[1]-1.8,width:Math.max(1.4,c[0]-a[0]),height:3.6},style:{fill:'#3aa17a'}};}});
 series.push({type:'scatter',xAxisIndex:g,yAxisIndex:g,silent:true,symbolSize:0,z:7,data:[[geneX,26]],label:{show:true,position:'inside',formatter:geneName,fontStyle:'italic',fontSize:6.8,color:'#333',fontFamily:FF}});
}
tracks(295.7,441.7,426.7,628.3,24660.9,24679.9,[24665,24670,24675],gPeakPos,gPeakHalf,gSignal,gOcrBlocks,gLoopAnchor,gLoopTargets,gGeneSpan,gExons,'GW7',24671.2,24671,'#f7b0b6');
tracks(550,442.3,681,629,31193,31215.4,[31195,31200,31205,31210],hPeakPos,hPeakHalf,hSignal,hOcrBlocks,hLoopAnchor,hLoopTargets,hGeneSpan,hExons,'NAL1',31201.2,31203.1,'#e6444a');
T('10',429.5,443,{size:3.5,color:'#888'});T('0',429.5,447,{size:3.5,color:'#888'});T('10',683,443,{size:3.5,color:'#888'});T('0',683,449,{size:3.5,color:'#888'});
// arrows
function arrow(x1,y1,x2,y2){const dx=x2-x1,dy=y2-y1,L=Math.hypot(dx,dy),ux=dx/L,uy=dy/L,bx=x2-ux*4,by=y2-uy*4;
 graphic.push({type:'line',silent:true,z:50,shape:{x1,y1,x2:bx,y2:by},style:{stroke:'#222',lineWidth:.7}});
 graphic.push({type:'polygon',silent:true,z:50,shape:{points:[[x2,y2],[bx-uy*1.6,by+ux*1.6],[bx+uy*1.6,by-ux*1.6]]},style:{fill:'#111'}});}
arrow(248,524,256.7,534);arrow(510,465,517,475);
// panel letters
[['a',0,10],['b',318,10],['c',499,10],['d',323,188],['e',536,188],['f',4,307],['g',180,356],['h',430,360]].forEach(([s,x,y])=>T(s,x,y,{size:18,weight:'bold',align:'left',color:'#111'}));

const chart=echarts.init(document.getElementById('c'),null,{renderer:'canvas'});
chart.setOption({animation:false,backgroundColor:'#fff',textStyle:{fontFamily:FF},grid,xAxis,yAxis,series,legend,visualMap,graphic:{elements:graphic}});
</script></body></html>
